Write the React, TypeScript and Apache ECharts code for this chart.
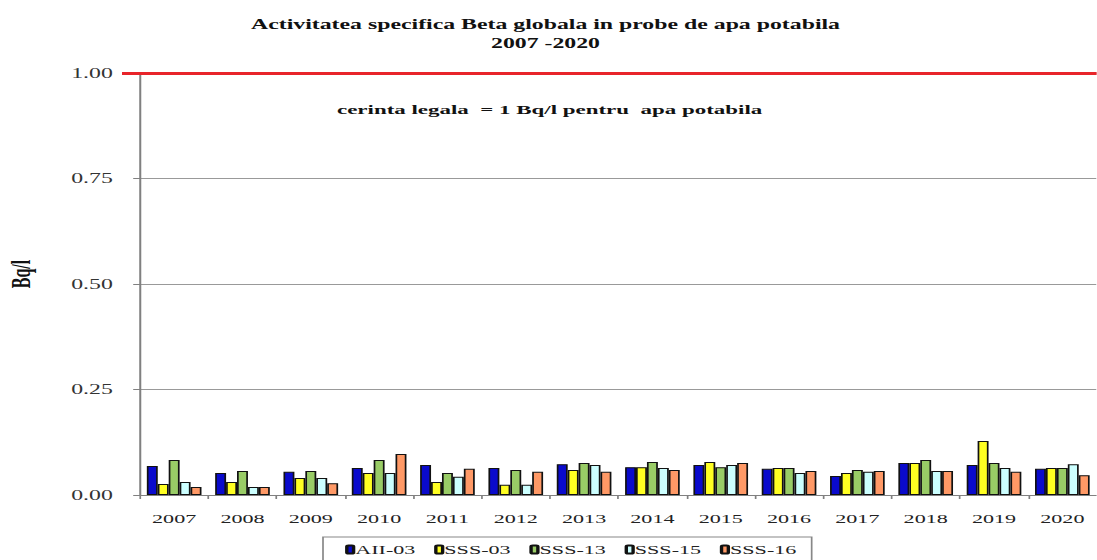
import React, { useEffect, useRef } from "react";
import * as echarts from "echarts";

const years = ["2007","2008","2009","2010","2011","2012","2013","2014","2015","2016","2017","2018","2019","2020"];
const seriesNames = ["AII-03", "SSS-03", "SSS-13", "SSS-15", "SSS-16"];
const aii03 = [0.069,0.052,0.055,0.064,0.071,0.064,0.073,0.066,0.071,0.062,0.045,0.076,0.071,0.062];
const sss03 = [0.026,0.031,0.040,0.052,0.031,0.024,0.059,0.066,0.078,0.064,0.052,0.076,0.128,0.064];
const sss13 = [0.083,0.057,0.057,0.083,0.052,0.059,0.076,0.078,0.066,0.064,0.059,0.083,0.076,0.064];
const sss15 = [0.031,0.019,0.040,0.052,0.043,0.024,0.071,0.064,0.071,0.052,0.055,0.057,0.064,0.073];
const sss16 = [0.019,0.019,0.028,0.097,0.062,0.055,0.055,0.059,0.076,0.057,0.057,0.057,0.055,0.047];
const colors = ["#0A0ACC", "#FFFF22", "#99CC66", "#CCFFFF", "#FF9966"];
const limitValue = 1;

const serif = "'Liberation Serif', 'DejaVu Serif', serif";
// the reference picture is stretched horizontally; reproduce with a horizontal scale
const S = 1.7;
const W = 1097 / S;

export default function App() {
  const ref = useRef<HTMLDivElement>(null);
  useEffect(() => {
    if (!ref.current) return;
    const chart = echarts.init(ref.current, null, { renderer: "svg" });
    const data = [aii03, sss03, sss13, sss15, sss16];
    chart.setOption({
      animation: false,
      backgroundColor: "#ffffff",
      title: {
        text: "Activitatea specifica Beta globala in probe de apa potabila\n2007 -2020",
        left: 537 / S,
        textAlign: "center",
        top: 10,
        textStyle: { fontFamily: serif, fontWeight: "bold", fontSize: 14, color: "#111", lineHeight: 19 },
      },
      legend: {
        left: 323 / S,
        top: 537,
        data: seriesNames,
        itemWidth: 4,
        itemHeight: 8,
        itemGap: 11,
        borderColor: "#888",
        borderWidth: 1,
        padding: [6, 9, 10, 13],
        textStyle: { fontFamily: serif, fontSize: 13, color: "#222", padding: [0, 0, 0, -4] },
      },
      grid: { left: 140 / S, top: 73, bottom: 65, width: 961 / S },
      xAxis: {
        type: "category",
        data: years,
        axisLine: { lineStyle: { color: "#808080", width: 1 } },
        axisTick: { show: true, length: 4, lineStyle: { color: "#808080" } },
        axisLabel: { fontFamily: serif, fontSize: 13, color: "#222", margin: 17 },
      },
      yAxis: {
        type: "value",
        min: 0,
        max: 1,
        interval: 0.25,
        axisLine: { show: true, lineStyle: { color: "#808080", width: 1.2 } },
        axisTick: { show: true, length: 4, lineStyle: { color: "#808080" } },
        axisLabel: { fontFamily: serif, fontSize: 14, color: "#333", margin: 16, formatter: (v: number) => v.toFixed(2) },
        splitLine: { show: true, lineStyle: { color: "#999", width: 1 } },
      },
      series: seriesNames.map((name, i) => ({
        name,
        type: "bar",
        data: data[i],
        barGap: "0%",
        barCategoryGap: "20%",
        itemStyle: { color: colors[i], borderColor: "#111", borderWidth: 1 },
        ...(i === 0
          ? {
              markLine: {
                silent: true,
                symbol: "none",
                label: { show: false },
                lineStyle: { color: "#E8242A", width: 3, type: "solid" },
                data: [
                  { yAxis: limitValue },
                  [
                    { coord: [0, limitValue], x: 122 / S },
                    { coord: [years.length - 1, limitValue], x: W },
                  ],
                ],
              },
            }
          : {}),
      })),
      graphic: [
        {
          type: "text",
          left: 337 / S,
          top: 102,
          style: {
            text: "cerinta legala  = 1 Bq/l pentru  apa potabila",
            fontFamily: serif,
            fontWeight: "bold",
            fontSize: 13.5,
            fill: "#111",
          },
        },
        {
          type: "text",
          x: 21 / S,
          y: 274,
          rotation: Math.PI / 2,
          style: {
            text: "Bq/l",
            fontFamily: serif,
            fontWeight: "bold",
            fontSize: 16,
            fill: "#111",
            align: "center",
            verticalAlign: "middle",
          },
        },
      ],
    });
    return () => chart.dispose();
  }, []);
  return (
    <div
      ref={ref}
      style={{
        position: "fixed",
        left: 0,
        top: 0,
        width: W,
        height: 560,
        transform: `scaleX(${S})`,
        transformOrigin: "0 0",
      }}
    />
  );
}
